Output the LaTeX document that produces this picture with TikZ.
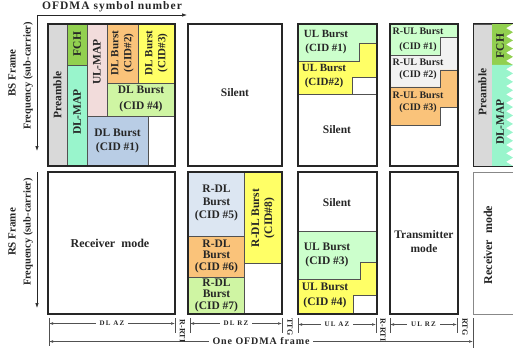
\documentclass[tikz,border=0pt]{standalone}
\usepackage{fontspec}
\setmainfont{Liberation Serif}
\newfontfamily\spacedfont[LetterSpace=9]{Liberation Serif}
\newfontfamily\widefont[LetterSpace=16]{Liberation Serif}
\usetikzlibrary{arrows.meta}
\definecolor{cPre}{HTML}{D9D9D9}
\definecolor{cFCH}{HTML}{92D050}
\definecolor{cDLM}{HTML}{99F5CC}
\definecolor{cULM}{HTML}{F2DCDB}
\definecolor{cOr}{HTML}{FAC37A}
\definecolor{cYe}{HTML}{FFFF66}
\definecolor{cLG}{HTML}{CFF5A3}
\definecolor{cMint}{HTML}{CCFFCC}
\definecolor{cBlue}{HTML}{B9CDE5}
\definecolor{cPale}{HTML}{DCE6F2}
\definecolor{cGr}{HTML}{F2F2F2}
\definecolor{ink}{HTML}{262626}
\begin{document}
\begin{tikzpicture}[x=1pt,y=-1pt,
  frame/.style={draw=ink, line width=1.3pt},
  cell/.style={draw=ink!80, line width=0.45pt},
  txt/.style={font=\bfseries\fontsize{11.5}{14.5}\selectfont, align=center, inner sep=0pt, text=ink},
  vtxt/.style={txt, rotate=90, font=\bfseries\fontsize{11.5}{13}\selectfont},
  stxt/.style={txt, font=\bfseries\fontsize{10}{13}\selectfont},
  axis/.style={draw=ink, line width=0.7pt, -{Latex[length=5pt,width=3.5pt]}},
  dim/.style={draw=ink!80, line width=0.5pt, {Latex[length=4pt,width=2.6pt]}-{Latex[length=4pt,width=2.6pt]}},
  tickline/.style={draw=ink!80, line width=0.6pt},
  dimlbl/.style={font=\widefont\bfseries\fontsize{7}{8}\selectfont, fill=white, inner xsep=4pt, inner ysep=0.5pt, text=ink},
  gaplbl/.style={font=\bfseries\fontsize{8}{9}\selectfont, rotate=-90, inner sep=0pt, text=ink}
]
\useasboundingbox (0,0) rectangle (513,350);
\clip (0,0) rectangle (513,350);

% ---------- axes ----------
\coordinate (ax0) at (37,15);
\coordinate (axX) at (187,15);
\coordinate (axY) at (37,151);
\draw[axis] (ax0) -- (axX);
\draw[axis] (ax0) -- (axY);
\node[font=\spacedfont\bfseries\fontsize{11.5}{12}\selectfont, text=ink, inner sep=0pt] (title) at (112,7) {OFDMA symbol number};
\node[vtxt, font=\bfseries\fontsize{11}{12}\selectfont] (bsf) at (12,73) {BS Frame};
\node[vtxt, font=\bfseries\fontsize{10.5}{12}\selectfont] (bsfq) at (28,76) {Frequency (sub-carrier)};

\coordinate (ax1) at (37,172);
\coordinate (axY2) at (37,308);
\draw[axis] (ax1) -- (axY2);
\node[vtxt, font=\bfseries\fontsize{11}{12}\selectfont] (rsf) at (12,232) {RS Frame};
\node[vtxt, font=\bfseries\fontsize{10.5}{12}\selectfont] (rsfq) at (28,232) {Frequency (sub-carrier)};

% ---------- top box A : DL AZ ----------
\filldraw[cell, fill=cPre] (48,24) rectangle (67,166);
\filldraw[cell, fill=cFCH] (67,24) rectangle (87,65);
\filldraw[cell, fill=cDLM] (67,65) rectangle (87,166);
\filldraw[cell, fill=cULM] (87,24) rectangle (107,116);
\filldraw[cell, fill=cOr] (107,24) rectangle (138,83);
\filldraw[cell, fill=cYe] (138,24) rectangle (175,83);
\filldraw[cell, fill=cLG] (107,83) rectangle (175,116);
\filldraw[cell, fill=cBlue] (87,116) rectangle (148,166);
\draw[frame] (48,24) rectangle (175,166);
\node[vtxt] (tPre) at (57.5,95) {Preamble};
\node[vtxt] (tFCH) at (77,44) {FCH};
\node[vtxt] (tDLM) at (77,112) {DL-MAP};
\node[vtxt] (tULM) at (97,62) {UL-MAP};
\node[vtxt, font=\bfseries\fontsize{11}{13}\selectfont] (tB2) at (122.5,53) {DL Burst\\(CID\#2)};
\node[vtxt, font=\bfseries\fontsize{11}{13}\selectfont] (tB3) at (156.5,53) {DL Burst\\(CID\#3)};
\node[txt, font=\bfseries\fontsize{11.5}{16}\selectfont] (tB4) at (141,99) {DL Burst\\(CID \#4)};
\node[txt] (tB1) at (117.5,141) {DL Burst\\(CID \#1)};

% ---------- top box B : Silent ----------
\draw[frame] (188,24) rectangle (282,166);
\node[txt] (tSil1) at (235,93) {Silent};

% ---------- top box C : UL AZ ----------
\filldraw[cell, fill=cMint] (298,24) -- (377,24) -- (377,43) -- (359,43) -- (359,61) -- (298,61) -- cycle;
\filldraw[cell, fill=cYe] (298,61) -- (359,61) -- (359,43) -- (377,43) -- (377,77) -- (352,77) -- (352,94) -- (298,94) -- cycle;
\draw[cell] (298,94) -- (377,94);
\draw[frame] (298,24) rectangle (377,166);
\node[txt, font=\bfseries\fontsize{11}{14.5}\selectfont] (tU1) at (326,42) {UL Burst\\(CID \#1)};
\node[txt, font=\bfseries\fontsize{11}{14.5}\selectfont] (tU2) at (324,76) {UL Burst\\(CID\#2)};
\node[txt] (tSil2) at (337,130) {Silent};

% ---------- top box D : UL RZ ----------
\filldraw[cell, fill=cMint] (390,24) -- (458,24) -- (458,37) -- (440,37) -- (440,55) -- (390,55) -- cycle;
\filldraw[cell, fill=cGr] (390,55) -- (440,55) -- (440,37) -- (458,37) -- (458,70) -- (440,70) -- (440,87) -- (390,87) -- cycle;
\filldraw[cell, fill=cOr] (390,87) -- (440,87) -- (440,70) -- (458,70) -- (458,107) -- (440,107) -- (440,125) -- (390,125) -- cycle;
\draw[frame] (390,24) rectangle (458,166);
\node[stxt, font=\bfseries\fontsize{10}{15}\selectfont] (tR1) at (418,40) {R-UL Burst\\(CID \#1)};
\node[stxt, font=\bfseries\fontsize{10}{12.5}\selectfont] (tR2) at (418,69.5) {R-UL Burst\\(CID \#2)};
\node[stxt, font=\bfseries\fontsize{10}{12}\selectfont] (tR3) at (418,102.5) {R-UL Burst\\(CID \#3)};

% ---------- top box E : next frame ----------
\filldraw[cell, fill=cPre] (473,24) rectangle (492,166);
\fill[cFCH] (492,24) -- (513,24) foreach \k in {1,...,5} { -- (506,{24+(\k-0.5)*8.2}) -- (513,{24+\k*8.2}) } -- (492,65) -- cycle;
\fill[cDLM] (492,65) -- (513,65) foreach \k in {1,...,12} { -- (506,{65+(\k-0.5)*8.417}) -- (513,{65+\k*8.417}) } -- (492,166) -- cycle;
\draw[draw=ink, line width=1pt] (515,24) -- (473,24) -- (473,166) -- (515,166);
\node[vtxt] (tPre2) at (482.5,92) {Preamble};
\node[vtxt] (tFCH2) at (500,46) {FCH};
\node[vtxt] (tDLM2) at (500,122) {DL-MAP};

% ---------- bottom box A : Receiver mode ----------
\draw[frame] (48,172) rectangle (175,314);
\node[txt, font=\bfseries\fontsize{12}{14}\selectfont] (tRx) at (110,243) {Receiver\ \ mode};

% ---------- bottom box B : DL RZ ----------
\filldraw[cell, fill=cPale] (188,172) rectangle (244,236);
\filldraw[cell, fill=cOr] (188,236) rectangle (244,277);
\filldraw[cell, fill=cLG] (188,277) rectangle (244,314);
\filldraw[cell, fill=cYe] (244,172) rectangle (282,263);
\draw[frame] (188,172) rectangle (282,314);
\node[txt, font=\bfseries\fontsize{11.5}{13}\selectfont] (tD5) at (216.5,203) {R-DL\\Burst\\(CID \#5)};
\node[txt, font=\bfseries\fontsize{11.5}{11.5}\selectfont] (tD6) at (216.5,256) {R-DL\\Burst\\(CID \#6)};
\node[txt, font=\bfseries\fontsize{11.5}{11.5}\selectfont] (tD7) at (216.5,295) {R-DL\\Burst\\(CID \#7)};
\node[vtxt] (tD8) at (263,218) {R-DL Burst\\(CID\#8)};

% ---------- bottom box C : UL AZ ----------
\draw[cell] (298,231) -- (377,231);
\filldraw[cell, fill=cMint] (298,231) -- (377,231) -- (377,262) -- (360,262) -- (360,279) -- (298,279) -- cycle;
\filldraw[cell, fill=cYe] (298,279) -- (360,279) -- (360,262) -- (377,262) -- (377,295) -- (353,295) -- (353,314) -- (298,314) -- cycle;
\draw[frame] (298,172) rectangle (377,314);
\node[txt] (tSil3) at (337,203) {Silent};
\node[txt] (tU3) at (327,255) {UL Burst\\(CID \#3)};
\node[txt] (tU4) at (325,295.5) {UL Burst\\(CID \#4)};

% ---------- bottom box D : Transmitter mode ----------
\draw[frame] (390,172) rectangle (458,314);
\node[txt, font=\bfseries\fontsize{11.5}{14}\selectfont] (tTx) at (424,242) {Transmitter\\mode};

% ---------- bottom box E ----------
\draw[draw=ink!55, line width=1pt] (515,172) -- (473,172) -- (473,314) -- (515,314);
\node[vtxt, font=\bfseries\fontsize{12}{13}\selectfont] (tRx2) at (488,245) {Receiver\ \ mode};

% ---------- dimension annotations ----------
\coordinate (k0t) at (49,318); \coordinate (k0b) at (49,346);
\coordinate (k1t) at (175,318); \coordinate (k1b) at (175,333);
\coordinate (k2t) at (190,318); \coordinate (k2b) at (190,333);
\coordinate (k3t) at (282,318); \coordinate (k3b) at (282,333);
\coordinate (k4t) at (298,318); \coordinate (k4b) at (298,333);
\coordinate (k5t) at (376,318); \coordinate (k5b) at (376,333);
\coordinate (k6t) at (390,318); \coordinate (k6b) at (390,333);
\coordinate (k7t) at (457,318); \coordinate (k7b) at (457,333);
\coordinate (k8t) at (473,318); \coordinate (k8b) at (473,348);
\foreach \i in {0,...,8} { \draw[tickline] (k\i t) -- (k\i b); }

\coordinate (d0) at (49,323.5); \coordinate (d1) at (175,323.5);
\coordinate (d2) at (190,323.5); \coordinate (d3) at (282,323.5);
\coordinate (d4) at (298,324.5); \coordinate (d5) at (376,324.5);
\coordinate (d6) at (390,324.5); \coordinate (d7) at (457,324.5);
\draw[dim] (d0) -- node[dimlbl] (lDLAZ) {DL AZ} (d1);
\draw[dim] (d2) -- node[dimlbl] (lDLRZ) {DL RZ} (d3);
\draw[dim] (d4) -- node[dimlbl] (lULAZ) {UL AZ} (d5);
\draw[dim] (d6) -- node[dimlbl] (lULRZ) {UL RZ} (d7);

\coordinate (f0) at (49,341.5); \coordinate (f1) at (473,341.5);
\draw[dim] (f0) -- node[fill=white, inner xsep=4pt, inner ysep=0.5pt, font=\spacedfont\bfseries\fontsize{10}{11}\selectfont, text=ink] (lFrame) {One OFDMA frame} (f1);

\node[gaplbl] (gRTI1) at (182.5,331) {R-RTI};
\node[gaplbl] (gTTG) at (290,327) {TTG};
\node[gaplbl] (gRTI2) at (383,330) {R-RTI};
\node[gaplbl] (gRTG) at (465,327) {RTG};
\end{tikzpicture}
\end{document}
